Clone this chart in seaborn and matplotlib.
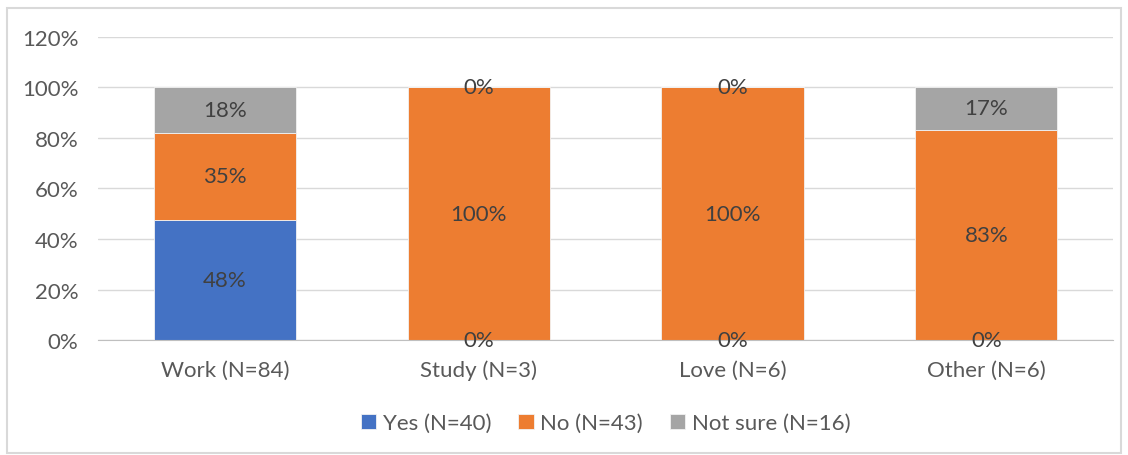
import matplotlib
matplotlib.use("Agg")
import matplotlib.pyplot as plt
import numpy as np
import pandas as pd
import seaborn as sns

# counts (N per category)
categories = ["Work (N=84)", "Study (N=3)", "Love (N=6)", "Other (N=6)"]
totals = np.array([84, 3, 6, 6])
yes_n = np.array([40, 0, 0, 0])
no_n = np.array([29, 3, 6, 5])
unsure_n = np.array([15, 0, 0, 1])

series_names = ["Yes (N=40)", "No (N=43)", "Not sure (N=16)"]
series_colors = ["#4472C4", "#ED7D31", "#A5A5A5"]
y_ticks = [0, 20, 40, 60, 80, 100, 120]

sns.set_style("white")
plt.rcParams["font.family"] = ["Lato", "DejaVu Sans"]
FS = 16

df = pd.DataFrame({
    "category": categories,
    "yes": yes_n / totals * 100,
    "no": no_n / totals * 100,
    "unsure": unsure_n / totals * 100,
})

fig = plt.figure(figsize=(11.28, 4.56), dpi=100)
ax = fig.add_axes([0.0869, 0.252, 0.9, 0.665])

bottom = np.zeros(len(df))
for col, name, color in zip(["yes", "no", "unsure"], series_names, series_colors):
    sns.barplot(data=df, x="category", y=col, color=color, bottom=bottom,
                width=0.56, ax=ax, label=name, saturation=1,
                edgecolor="#F2F2F2", linewidth=0.6)
    bottom = bottom + df[col].values

for cont in ax.containers:
    vals = [b.get_height() for b in cont]
    ax.bar_label(cont, labels=[f"{v:.0f}%" for v in vals], label_type="center",
                 fontsize=FS, color="#404040")

ax.set_ylim(0, 120)
ax.set_yticks(y_ticks)
ax.set_yticklabels([f"{t}%" for t in y_ticks], fontsize=FS, color="#595959")
ax.tick_params(axis="x", labelsize=FS, labelcolor="#595959", length=0, pad=14)
ax.tick_params(axis="y", length=0, pad=14)
ax.set_xlabel("")
ax.set_ylabel("")
ax.grid(axis="y", color="#D9D9D9", linewidth=1)
ax.set_axisbelow(True)
for s in ["top", "right", "left"]:
    ax.spines[s].set_visible(False)
ax.spines["bottom"].set_color("#BFBFBF")
ax.set_xlim(-0.5, 3.5)

ax.legend(loc="center", bbox_to_anchor=(0.5, -0.274), ncol=3, frameon=False,
          fontsize=FS, handlelength=0.7, handleheight=0.7, handletextpad=0.3,
          columnspacing=1.2, labelcolor="#595959")

# light frame around the whole chart
fig.patches.append(plt.Rectangle((0.006, 0.004), 0.988, 0.976, transform=fig.transFigure,
                                 fill=False, edgecolor="#D9D9D9", linewidth=1.5))

fig.savefig("out.png", dpi=100, facecolor="white")
